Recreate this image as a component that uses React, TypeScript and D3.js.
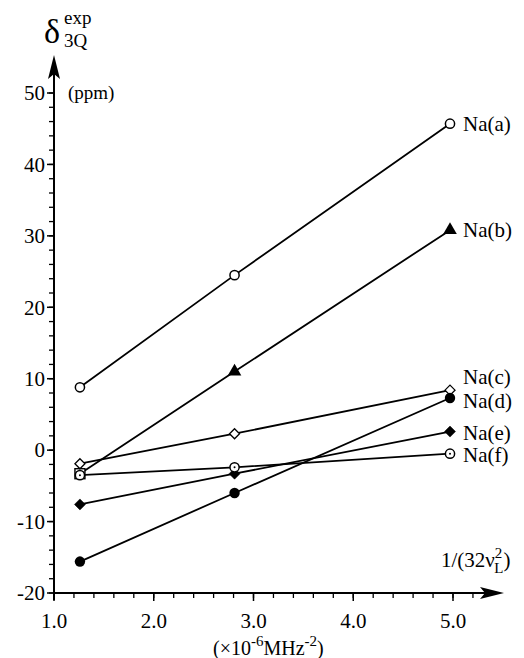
import React from 'react';
import * as d3 from 'd3';

const width = 524;
const height = 658;

// x positions of the three measurement fields
const xValues = [1.26, 2.81, 4.97];

const seriesNames = ['Na(a)', 'Na(b)', 'Na(c)', 'Na(d)', 'Na(e)', 'Na(f)'];
const naA = [8.8, 24.5, 45.7];
const naB = [-3.3, 11.0, 30.8];
const naC = [-1.9, 2.3, 8.4];
const naD = [-15.6, -6.0, 7.3];
const naE = [-7.6, -3.3, 2.6];
const naF = [-3.5, -2.4, -0.5];
const seriesValues = [naA, naB, naC, naD, naE, naF];
const markers = ['circle', 'triangle', 'diamondOpen', 'dot', 'diamond', 'circleDot'];
// label heights (ppm) next to the last point
const labelValues = [45.7, 30.8, 10.3, 6.9, 2.5, -0.7];

const yTicks = [-20, -10, 0, 10, 20, 30, 40, 50];
const xTicks = [1.0, 2.0, 3.0, 4.0, 5.0];

const font = 'Liberation Serif, Times New Roman, serif';

const x = d3.scaleLinear().domain([1, 5]).range([54, 453]);
const y = d3.scaleLinear().domain([-20, 50]).range([593, 93]);

const Marker = ({ kind, cx, cy, first }: { kind: string; cx: number; cy: number; first: boolean }) => {
  if (kind === 'triangle' && first) {
    return <rect x={cx - 5} y={cy - 5} width={10} height={10} fill="white" stroke="black" strokeWidth={1.4} />;
  }
  if (kind === 'circle' || kind === 'circleDot') {
    return (
      <g>
        <circle cx={cx} cy={cy} r={4.6} fill="white" stroke="black" strokeWidth={1.5} />
        {kind === 'circleDot' && <circle cx={cx} cy={cy} r={1} fill="black" />}
      </g>
    );
  }
  if (kind === 'dot') return <circle cx={cx} cy={cy} r={5.2} fill="black" />;
  if (kind === 'triangle') {
    const path = d3.symbol().type(d3.symbolTriangle).size(80)() as string;
    return <path d={path} transform={`translate(${cx},${cy})`} fill="black" />;
  }
  const open = kind === 'diamondOpen';
  const h = open ? 5 : 5.5;
  return (
    <path
      d={`M${cx},${cy - h} L${cx + h},${cy} L${cx},${cy + h} L${cx - h},${cy} Z`}
      fill={open ? 'white' : 'black'}
      stroke="black"
      strokeWidth={open ? 1.3 : 0.5}
    />
  );
};

export default function App() {
  const line = d3.line<number>().x((_, i) => x(xValues[i])).y(d => y(d));
  const yMinor = d3.range(-20, 50.01, 2);
  const xMinor = d3.range(1, 5.21, 0.2);
  const x0 = x(1);
  const yBase = y(-20);

  return (
    <div style={{ position: 'absolute', left: 0, top: 0 }}>
      <svg width={width} height={height} style={{ background: 'white', display: 'block', fontFamily: font }}>
        {/* axes */}
        <line x1={x0} x2={x0} y1={yBase + 7} y2={70} stroke="black" strokeWidth={2} />
        <path d={`M${x0},55 L${x0 - 6},79 L${x0},74 L${x0 + 6},79 Z`} fill="black" />
        <line x1={x0} x2={490} y1={yBase} y2={yBase} stroke="black" strokeWidth={2} />
        <path d={`M504,${yBase} L480,${yBase - 6} L485,${yBase} L480,${yBase + 6} Z`} fill="black" />

        {yMinor.map(v => (
          <line key={'ym' + v} x1={x0 - 5} x2={x0} y1={y(v)} y2={y(v)} stroke="black" strokeWidth={1.3} />
        ))}
        {yTicks.map(v => (
          <g key={'yt' + v}>
            <line x1={x0 - 7} x2={x0} y1={y(v)} y2={y(v)} stroke="black" strokeWidth={1.5} />
            <text x={x0 - 9} y={y(v)} dy="0.35em" textAnchor="end" fontSize={21}>{v}</text>
          </g>
        ))}
        {xMinor.map(v => (
          <line key={'xm' + v.toFixed(1)} x1={x(v)} x2={x(v)} y1={yBase} y2={yBase + 5} stroke="black" strokeWidth={1.3} />
        ))}
        {xTicks.map(v => (
          <g key={'xt' + v}>
            <line x1={x(v)} x2={x(v)} y1={yBase} y2={yBase + 8} stroke="black" strokeWidth={1.5} />
            <text x={x(v)} y={yBase + 35} textAnchor="middle" fontSize={21}>{v.toFixed(1)}</text>
          </g>
        ))}

        {/* axis titles */}
        <text x={44} y={43} fontSize={34}>δ</text>
        <text x={64} y={24} fontSize={19}>exp</text>
        <text x={64} y={47} fontSize={19}>3Q</text>
        <text x={68} y={99} fontSize={19}>(ppm)</text>

        <text x={441} y={567} fontSize={21}>
          1/(32ν
          <tspan fontSize={15} dy={-9}>2</tspan>
          <tspan fontSize={15} dx={-8} dy={15}>L</tspan>
          <tspan fontSize={21} dy={-6}>)</tspan>
        </text>
        <text x={213} y={655} fontSize={20}>
          (×10
          <tspan fontSize={15} dy={-9}>-6</tspan>
          <tspan fontSize={20} dy={9}>MHz</tspan>
          <tspan fontSize={15} dy={-9}>-2</tspan>
          <tspan fontSize={20} dy={9}>)</tspan>
        </text>

        {/* series */}
        {seriesValues.map((vals, s) => (
          <path key={'l' + s} d={line(vals) as string} fill="none" stroke="black" strokeWidth={1.8} />
        ))}
        {seriesValues.map((vals, s) =>
          vals.map((v, i) => (
            <Marker key={`m${s}-${i}`} kind={markers[s]} cx={x(xValues[i])} cy={y(v)} first={i === 0} />
          ))
        )}
        {seriesNames.map((n, s) => (
          <text key={'n' + s} x={463} y={y(labelValues[s])} dy="0.35em" fontSize={21}>{n}</text>
        ))}
      </svg>
    </div>
  );
}
